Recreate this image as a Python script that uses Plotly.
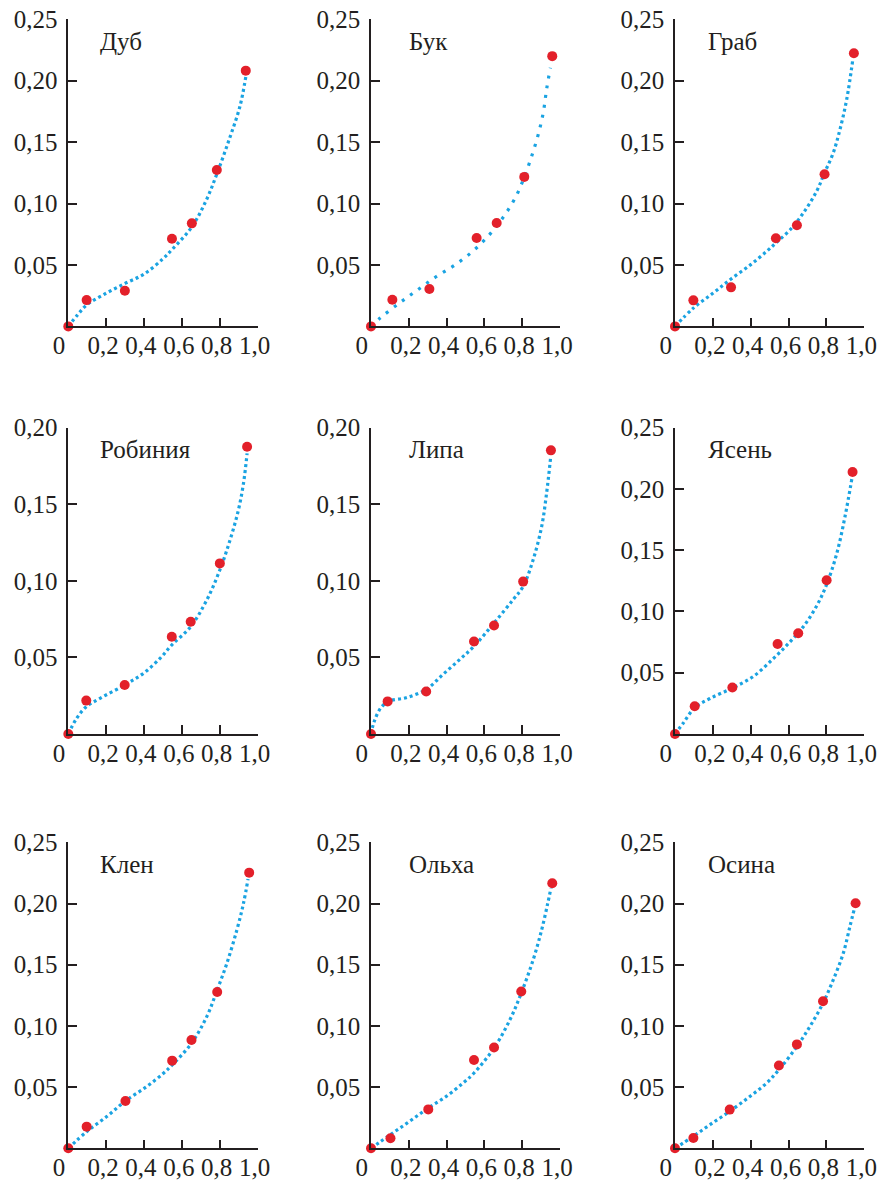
import plotly.graph_objects as go

# Species panels, left-to-right, top-to-bottom
species = ["Дуб", "Бук", "Граб", "Робиния", "Липа", "Ясень", "Клен", "Ольха", "Осина"]

# Measured points (x, y) for each species
pts_x = {
    "Дуб":     [0, 0.097, 0.299, 0.548, 0.653, 0.785, 0.938],
    "Бук":     [0, 0.113, 0.309, 0.559, 0.665, 0.811, 0.959],
    "Граб":    [0, 0.097, 0.296, 0.533, 0.644, 0.790, 0.945],
    "Робиния": [0, 0.095, 0.298, 0.547, 0.647, 0.801, 0.945],
    "Липа":    [0, 0.088, 0.292, 0.545, 0.651, 0.805, 0.952],
    "Ясень":   [0, 0.104, 0.303, 0.542, 0.651, 0.801, 0.938],
    "Клен":    [0, 0.097, 0.302, 0.549, 0.651, 0.787, 0.956],
    "Ольха":   [0, 0.103, 0.303, 0.545, 0.651, 0.795, 0.959],
    "Осина":   [0, 0.097, 0.289, 0.549, 0.644, 0.782, 0.954],
}
pts_y = {
    "Дуб":     [0, 0.0214, 0.0290, 0.0714, 0.0839, 0.1273, 0.2082],
    "Бук":     [0, 0.0217, 0.0304, 0.0720, 0.0842, 0.1217, 0.2200],
    "Граб":    [0, 0.0212, 0.0318, 0.0717, 0.0823, 0.1239, 0.2223],
    "Робиния": [0, 0.0218, 0.0320, 0.0635, 0.0733, 0.1114, 0.1876],
    "Липа":    [0, 0.0213, 0.0278, 0.0604, 0.0708, 0.0995, 0.1852],
    "Ясень":   [0, 0.0226, 0.0380, 0.0734, 0.0823, 0.1255, 0.2139],
    "Клен":    [0, 0.0177, 0.0387, 0.0716, 0.0885, 0.1277, 0.2252],
    "Ольха":   [0, 0.0082, 0.0318, 0.0721, 0.0824, 0.1281, 0.2165],
    "Осина":   [0, 0.0084, 0.0316, 0.0677, 0.0849, 0.1202, 0.2002],
}

# Approximating trend curve for each species
curve_x = {
    "Дуб":     [0, 0.048, 0.097, 0.20, 0.30, 0.40, 0.50, 0.548, 0.653, 0.73, 0.785, 0.85, 0.907, 0.938],
    "Бук":     [0, 0.048, 0.146, 0.243, 0.342, 0.441, 0.538, 0.624, 0.697, 0.762, 0.813, 0.850, 0.885, 0.912, 0.929, 0.949],
    "Граб":    [0, 0.097, 0.202, 0.296, 0.400, 0.484, 0.533, 0.607, 0.678, 0.748, 0.790, 0.836, 0.871, 0.907, 0.940],
    "Робиния": [0, 0.044, 0.095, 0.168, 0.298, 0.397, 0.485, 0.547, 0.647, 0.732, 0.801, 0.855, 0.899, 0.926, 0.945],
    "Липа":    [0, 0.018, 0.053, 0.097, 0.186, 0.292, 0.381, 0.469, 0.545, 0.651, 0.752, 0.805, 0.858, 0.903, 0.929, 0.950],
    "Ясень":   [0, 0.044, 0.104, 0.185, 0.303, 0.414, 0.519, 0.600, 0.680, 0.750, 0.801, 0.854, 0.898, 0.935],
    "Клен":    [0, 0.097, 0.203, 0.302, 0.414, 0.503, 0.549, 0.651, 0.732, 0.787, 0.838, 0.891, 0.926, 0.950],
    "Ольха":   [0, 0.103, 0.204, 0.303, 0.398, 0.487, 0.545, 0.651, 0.735, 0.795, 0.858, 0.903, 0.935, 0.952],
    "Осина":   [0, 0.097, 0.185, 0.289, 0.396, 0.484, 0.549, 0.644, 0.713, 0.782, 0.836, 0.889, 0.924, 0.948],
}
curve_y = {
    "Дуб":     [0, 0.0092, 0.0174, 0.0270, 0.0350, 0.0426, 0.0550, 0.0625, 0.0810, 0.1030, 0.1240, 0.1520, 0.1790, 0.2030],
    "Бук":     [0, 0.0068, 0.0185, 0.0293, 0.0402, 0.0497, 0.0611, 0.0742, 0.0883, 0.1043, 0.1223, 0.1386, 0.1563, 0.1745, 0.1929, 0.2106],
    "Граб":    [0, 0.0149, 0.0272, 0.0386, 0.0503, 0.0611, 0.0679, 0.0785, 0.0924, 0.1100, 0.1250, 0.1413, 0.1600, 0.1848, 0.2180],
    "Робиния": [0, 0.0102, 0.0178, 0.0233, 0.0320, 0.0396, 0.0494, 0.0581, 0.0701, 0.0875, 0.1071, 0.1267, 0.1462, 0.1637, 0.1832],
    "Липа":    [0, 0.0085, 0.0172, 0.0215, 0.0237, 0.0291, 0.0389, 0.0486, 0.0573, 0.0725, 0.0877, 0.0964, 0.1138, 0.1355, 0.1572, 0.1800],
    "Ясень":   [0, 0.0090, 0.0215, 0.0290, 0.0375, 0.0470, 0.0615, 0.0740, 0.0880, 0.1050, 0.1220, 0.1470, 0.1774, 0.2090],
    "Клен":    [0, 0.0136, 0.0259, 0.0387, 0.0504, 0.0613, 0.0681, 0.0858, 0.1076, 0.1294, 0.1511, 0.1784, 0.2002, 0.2200],
    "Ольха":   [0, 0.0112, 0.0220, 0.0329, 0.0424, 0.0533, 0.0615, 0.0819, 0.1050, 0.1268, 0.1540, 0.1785, 0.2000, 0.2125],
    "Осина":   [0, 0.0098, 0.0193, 0.0302, 0.0424, 0.0533, 0.0642, 0.0832, 0.0996, 0.1186, 0.1376, 0.1594, 0.1812, 0.1960],
}

# Upper y limit and tick labels per panel
y_max = {s: 0.25 for s in species}
y_max["Робиния"] = 0.20
y_max["Липа"] = 0.20
y_ticks_025 = [0.05, 0.10, 0.15, 0.20, 0.25]
y_text_025 = ["0,05", "0,10", "0,15", "0,20", "0,25"]
x_ticks = [0, 0.2, 0.4, 0.6, 0.8, 1.0]
x_text = ["0\u00a0\u00a0", "0,2", "0,4", "0,6", "0,8", "1,0"]

# Page layout in pixels
W, H = 884, 1181
col_px = [(68.3, 257.5), (371.0, 560.0), (675.0, 864.3)]
row_px = [(19.3, 326.4), (427.7, 734.0), (842.3, 1148.3)]
title_x_px = [98, 407, 706]
title_y_off = 22

INK = "#231f20"
RED = "#e3202a"
BLUE = "#1aa3e2"
FONT = "Liberation Serif, Times New Roman, serif"
FS = 25

fig = go.Figure()
layout = {}
annotations = []

for i, sp in enumerate(species):
    r, c = divmod(i, 3)
    n = i + 1
    xa = "xaxis" if n == 1 else f"xaxis{n}"
    ya = "yaxis" if n == 1 else f"yaxis{n}"
    xref = "x" if n == 1 else f"x{n}"
    yref = "y" if n == 1 else f"y{n}"

    dash = "3px,7px" if sp == "Бук" else "3px,3px"
    fig.add_trace(go.Scatter(
        x=curve_x[sp], y=curve_y[sp], mode="lines",
        line=dict(color=BLUE, width=3.2, dash=dash, shape="spline", smoothing=1.0),
        xaxis=xref, yaxis=yref, showlegend=False, hoverinfo="skip",
    ))
    fig.add_trace(go.Scatter(
        x=pts_x[sp], y=pts_y[sp], mode="markers",
        marker=dict(color=RED, size=10, line=dict(width=0)),
        xaxis=xref, yaxis=yref, showlegend=False, cliponaxis=False,
    ))

    x0, x1 = col_px[c]
    t0, t1 = row_px[r]
    yt = [v for v in y_ticks_025 if v <= y_max[sp] + 1e-9]
    ytx = y_text_025[:len(yt)]

    layout[xa] = dict(
        domain=[x0 / W, x1 / W], range=[0, 1.0], anchor=yref,
        showline=True, linecolor=INK, linewidth=1.5, mirror=False,
        ticks="inside", ticklen=9, tickwidth=1.5, tickcolor=INK,
        tickvals=x_ticks, ticktext=x_text, ticklabelshift=-3,
        ticklabelstandoff=-4,
        tickfont=dict(family=FONT, size=FS, color=INK),
        showgrid=False, zeroline=False, fixedrange=True, automargin=False,
    )
    layout[ya] = dict(
        domain=[1 - t1 / H, 1 - t0 / H], range=[0, y_max[sp]], anchor=xref,
        showline=True, linecolor=INK, linewidth=1.5, mirror=False,
        ticks="inside", ticklen=9, tickwidth=1.5, tickcolor=INK,
        tickvals=yt, ticktext=ytx, ticklabelstandoff=4,
        tickfont=dict(family=FONT, size=FS, color=INK),
        showgrid=False, zeroline=False, fixedrange=True, automargin=False,
    )
    annotations.append(dict(
        text=sp, xref="paper", yref="paper",
        x=title_x_px[c] / W, y=1 - (t0 + title_y_off) / H,
        xanchor="left", yanchor="middle", showarrow=False,
        font=dict(family=FONT, size=FS, color=INK),
    ))

fig.update_layout(
    template="none",
    width=W, height=H,
    margin=dict(l=0, r=0, t=0, b=0, pad=0),
    paper_bgcolor="white", plot_bgcolor="white",
    annotations=annotations,
    **layout,
)

fig.write_html("out.html")
